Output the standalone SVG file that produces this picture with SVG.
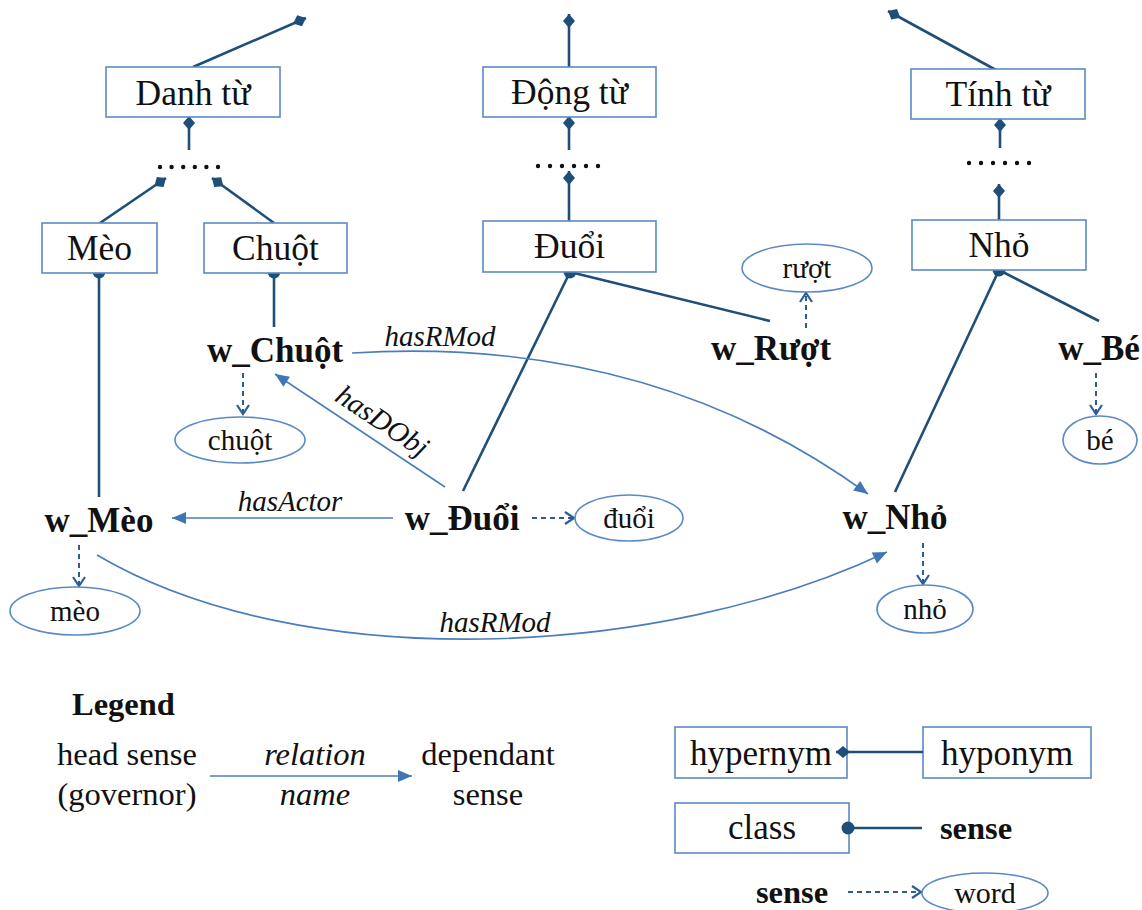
<svg xmlns="http://www.w3.org/2000/svg" width="1142" height="910" viewBox="0 0 1142 910">
  <style>
    .box { fill: #ffffff; stroke: #5a8ac6; stroke-width: 1.6; }
    .ell { fill: #ffffff; stroke: #5a8ac6; stroke-width: 1.6; }
    .t { font-family: "Liberation Serif", "Times New Roman", serif; fill: #111111; text-anchor: middle; }
    .bx { font-size: 35.5px; }
    .ew { font-size: 29px; }
    .sn { font-size: 35px; font-weight: bold; }
    .rl { font-size: 29px; font-style: italic; }
    .lg { font-size: 32.5px; }
    .hyp { fill: none; stroke: #1f4e79; stroke-width: 2.6; }
    .rel { fill: none; stroke: #4a7ebb; stroke-width: 1.6; marker-end: url(#tri); }
    .wd { fill: none; stroke: #2c5d94; stroke-width: 2; stroke-dasharray: 5 4; marker-end: url(#chev); }
    .dot { fill: #1f4e79; }
    .dots { fill: #111111; }
  </style>
  <defs>
    <!-- diamond end on the hypernym side -->
    <marker id="dia" viewBox="-15 -7 16 14" refX="0" refY="0" markerWidth="16" markerHeight="14" markerUnits="userSpaceOnUse" orient="auto">
      <path d="M0,0 L-7,-6 L-14,0 L-7,6 Z" fill="#1f4e79"/>
    </marker>
    <!-- filled arrowhead for relations -->
    <marker id="tri" viewBox="-15 -7 16 14" refX="0" refY="0" markerWidth="16" markerHeight="14" markerUnits="userSpaceOnUse" orient="auto">
      <path d="M0,0 L-14,-6 L-14,6 Z" fill="#3f76b4"/>
    </marker>
    <!-- open chevron for sense-to-word links -->
    <marker id="chev" viewBox="-12 -8 14 16" refX="0" refY="0" markerWidth="14" markerHeight="16" markerUnits="userSpaceOnUse" orient="auto">
      <path d="M-9,-6 L0,0 L-9,6" fill="none" stroke="#2c5d94" stroke-width="2.2"/>
    </marker>
  </defs>

  <!-- connectors -->
  <g id="connectors">
    <!-- hyponymy links -->
    <line class="hyp" x1="193" y1="67" x2="306" y2="18" marker-end="url(#dia)"/>
    <line class="hyp" x1="189" y1="150" x2="189" y2="116" marker-end="url(#dia)"/>
    <line class="hyp" x1="100" y1="223" x2="166" y2="178" marker-end="url(#dia)"/>
    <line class="hyp" x1="274" y1="223" x2="212" y2="178" marker-end="url(#dia)"/>

    <line class="hyp" x1="569" y1="67" x2="569" y2="14" marker-end="url(#dia)"/>
    <line class="hyp" x1="569" y1="150" x2="569" y2="116" marker-end="url(#dia)"/>
    <line class="hyp" x1="569" y1="221" x2="569" y2="171" marker-end="url(#dia)"/>

    <line class="hyp" x1="996" y1="70" x2="888" y2="11" marker-end="url(#dia)"/>
    <line class="hyp" x1="1000" y1="148" x2="1000" y2="118" marker-end="url(#dia)"/>
    <line class="hyp" x1="999" y1="220" x2="999" y2="184" marker-end="url(#dia)"/>

    <!-- class-to-sense links -->
    <line class="hyp" x1="99" y1="272" x2="99" y2="497"/>
    <line class="hyp" x1="274" y1="272" x2="274" y2="327"/>
    <line class="hyp" x1="570" y1="272" x2="770" y2="321"/>
    <line class="hyp" x1="570" y1="272" x2="463" y2="491"/>
    <line class="hyp" x1="999" y1="270" x2="1099" y2="321"/>
    <line class="hyp" x1="999" y1="270" x2="895" y2="492"/>
    <circle class="dot" cx="99" cy="272" r="6.5"/>
    <circle class="dot" cx="274" cy="272" r="6.5"/>
    <circle class="dot" cx="570" cy="272" r="6.5"/>
    <circle class="dot" cx="999" cy="270" r="6.5"/>

    <!-- ellipsis rows -->
    <g class="dots">
      <circle cx="160" cy="167" r="2.2"/><circle cx="171.6" cy="167" r="2.2"/><circle cx="183.2" cy="167" r="2.2"/>
      <circle cx="194.8" cy="167" r="2.2"/><circle cx="206.4" cy="167" r="2.2"/><circle cx="218" cy="167" r="2.2"/>
      <circle cx="538" cy="166" r="2.2"/><circle cx="550" cy="166" r="2.2"/><circle cx="562" cy="166" r="2.2"/>
      <circle cx="574" cy="166" r="2.2"/><circle cx="586" cy="166" r="2.2"/><circle cx="598" cy="166" r="2.2"/>
      <circle cx="969" cy="163" r="2.2"/><circle cx="981" cy="163" r="2.2"/><circle cx="993" cy="163" r="2.2"/>
      <circle cx="1005" cy="163" r="2.2"/><circle cx="1017" cy="163" r="2.2"/><circle cx="1029" cy="163" r="2.2"/>
    </g>

    <!-- relations -->
    <line class="rel" x1="393" y1="518" x2="172" y2="518"/>
    <line class="rel" x1="445" y1="487" x2="275" y2="374"/>
    <path class="rel" d="M352,353 Q650,335 868,494"/>
    <path class="rel" d="M97,555 C300,675 660,660 887,552"/>

    <!-- sense-to-word links -->
    <line class="wd" x1="243" y1="373" x2="243" y2="414"/>
    <line class="wd" x1="79" y1="545" x2="79" y2="586"/>
    <line class="wd" x1="532" y1="518" x2="574" y2="518"/>
    <line class="wd" x1="806" y1="328" x2="806" y2="293"/>
    <line class="wd" x1="1096" y1="373" x2="1096" y2="414"/>
    <line class="wd" x1="923" y1="543" x2="923" y2="584"/>

    <!-- relation labels -->
    <text class="t rl" x="440" y="346">hasRMod</text>
    <text class="t rl" x="290" y="511">hasActor</text>
    <text class="t rl" x="377" y="429" transform="rotate(33.6 377 429)">hasDObj</text>
    <text class="t rl" x="495" y="632">hasRMod</text>
  </g>

  <!-- class boxes -->
  <g id="danh-tu"><rect class="box" x="106" y="67" width="174" height="50"/><text class="t bx" x="193" y="105">Danh từ</text></g>
  <g id="dong-tu"><rect class="box" x="483" y="67" width="173" height="50"/><text class="t bx" x="569.5" y="104">Động từ</text></g>
  <g id="tinh-tu"><rect class="box" x="911" y="69" width="174" height="50"/><text class="t bx" x="998" y="106">Tính từ</text></g>
  <g id="meo"><rect class="box" x="42" y="223" width="115" height="50"/><text class="t bx" x="99.5" y="260">Mèo</text></g>
  <g id="chuot"><rect class="box" x="204" y="223" width="143" height="50"/><text class="t bx" x="275.5" y="260">Chuột</text></g>
  <g id="duoi"><rect class="box" x="483" y="221" width="173" height="51"/><text class="t bx" x="569.5" y="258">Đuổi</text></g>
  <g id="nho"><rect class="box" x="912" y="220" width="174" height="50"/><text class="t bx" x="999" y="257">Nhỏ</text></g>

  <!-- senses -->
  <g id="w-chuot"><text class="t sn" x="275" y="362">w_Chuột</text></g>
  <g id="w-ruot"><text class="t sn" x="771" y="360">w_Rượt</text></g>
  <g id="w-be"><text class="t sn" x="1099" y="360">w_Bé</text></g>
  <g id="w-meo"><text class="t sn" x="99" y="532">w_Mèo</text></g>
  <g id="w-duoi"><text class="t sn" x="462" y="530">w_Đuổi</text></g>
  <g id="w-nho"><text class="t sn" x="895" y="529">w_Nhỏ</text></g>

  <!-- words -->
  <g id="word-ruot"><ellipse class="ell" cx="807" cy="268" rx="65" ry="24"/><text class="t ew" x="807" y="278">rượt</text></g>
  <g id="word-chuot"><ellipse class="ell" cx="240" cy="440" rx="65" ry="23"/><text class="t ew" x="240" y="450">chuột</text></g>
  <g id="word-meo"><ellipse class="ell" cx="75" cy="611" rx="65" ry="24"/><text class="t ew" x="75" y="621">mèo</text></g>
  <g id="word-duoi"><ellipse class="ell" cx="629" cy="518" rx="54" ry="23"/><text class="t ew" x="629" y="528">đuổi</text></g>
  <g id="word-be"><ellipse class="ell" cx="1100" cy="440" rx="37" ry="24"/><text class="t ew" x="1100" y="450">bé</text></g>
  <g id="word-nho"><ellipse class="ell" cx="925" cy="609" rx="48" ry="24"/><text class="t ew" x="925" y="619">nhỏ</text></g>

  <!-- legend -->
  <g id="legend">
    <text class="t lg" x="72" y="715" style="text-anchor:start;font-weight:bold">Legend</text>
    <text class="t lg" x="127" y="765">head sense</text>
    <text class="t lg" x="127" y="805">(governor)</text>
    <text class="t lg" x="315" y="765" style="font-style:italic">relation</text>
    <text class="t lg" x="315" y="805" style="font-style:italic">name</text>
    <line class="rel" x1="210" y1="776" x2="412" y2="776"/>
    <text class="t lg" x="488" y="765">dependant</text>
    <text class="t lg" x="488" y="805">sense</text>

    <rect class="box" x="675" y="727" width="172" height="51"/>
    <text class="t lg" x="761" y="765" style="font-size:35px">hypernym</text>
    <rect class="box" x="923" y="727" width="168" height="51"/>
    <text class="t lg" x="1007" y="765" style="font-size:35px">hyponym</text>
    <line class="hyp" x1="923" y1="752" x2="836" y2="752" marker-end="url(#dia)"/>

    <rect class="box" x="675" y="803" width="174" height="50"/>
    <text class="t lg" x="762" y="839" style="font-size:35px">class</text>
    <line class="hyp" x1="848" y1="828" x2="922" y2="828"/>
    <circle class="dot" cx="848" cy="828" r="6.5"/>
    <text class="t lg" x="976" y="839" style="font-weight:bold">sense</text>

    <text class="t lg" x="792" y="903" style="font-weight:bold">sense</text>
    <line class="wd" x1="848" y1="892" x2="921" y2="892"/>
    <ellipse class="ell" cx="985" cy="893" rx="63" ry="20"/>
    <text class="t ew" x="985" y="903" style="font-size:30px">word</text>
  </g>
</svg>
